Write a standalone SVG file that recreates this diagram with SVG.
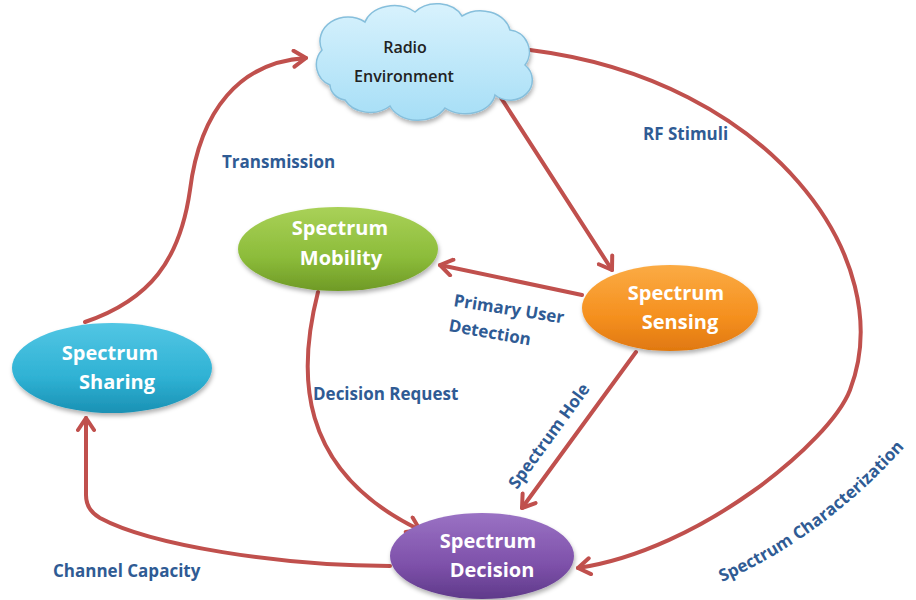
<svg xmlns="http://www.w3.org/2000/svg" width="916" height="600" viewBox="0 0 916 600">
<style>
.conn{fill:none;stroke:#c0504d;stroke-width:4;stroke-linecap:round}
.lbl{font-family:"Open Sans","Liberation Sans",sans-serif;font-weight:700;font-size:17px;fill:#2f5b94}
.nt{font-family:"Open Sans","Liberation Sans",sans-serif;font-weight:700;font-size:20px;fill:#ffffff;text-anchor:middle}
.ct{font-family:"Open Sans","Liberation Sans",sans-serif;font-weight:600;font-size:16px;fill:#222;text-anchor:middle}
</style>
<defs>
<marker id="ah" viewBox="0 0 20 20" refX="15" refY="10" markerWidth="20" markerHeight="20" markerUnits="userSpaceOnUse" orient="auto">
<path d="M3,2 L15,10 L3,18" fill="none" stroke="#c0504d" stroke-width="4" stroke-linecap="round" stroke-linejoin="round"/>
</marker>
<filter id="sh" x="-20%" y="-20%" width="140%" height="150%">
<feDropShadow dx="1" dy="3" stdDeviation="2" flood-color="#000" flood-opacity="0.3"/>
</filter>
<linearGradient id="gCloud" x1="0" y1="0" x2="0" y2="1"><stop offset="0" stop-color="#d8f2fd"/><stop offset="1" stop-color="#a6def6"/></linearGradient>
<linearGradient id="gMob" x1="0" y1="0" x2="0" y2="1"><stop offset="0" stop-color="#a9d158"/><stop offset="0.6" stop-color="#8cbc3a"/><stop offset="1" stop-color="#6f9a26"/></linearGradient>
<linearGradient id="gSen" x1="0" y1="0" x2="0" y2="1"><stop offset="0" stop-color="#fbab44"/><stop offset="0.6" stop-color="#f5901f"/><stop offset="1" stop-color="#e07810"/></linearGradient>
<linearGradient id="gSha" x1="0" y1="0" x2="0" y2="1"><stop offset="0" stop-color="#52c6e4"/><stop offset="0.6" stop-color="#2fb2d4"/><stop offset="1" stop-color="#1a91b4"/></linearGradient>
<linearGradient id="gDec" x1="0" y1="0" x2="0" y2="1"><stop offset="0" stop-color="#9a72c4"/><stop offset="0.6" stop-color="#7e51aa"/><stop offset="1" stop-color="#5f3a8a"/></linearGradient>
<path id="pChar" d="M722,582 Q830,535 920,430"/>
</defs>

<g id="connectors">
<path class="conn" marker-end="url(#ah)" d="M85,322 C150,300 180,260 190,190 C200,110 240,62 306,58"/>
<path class="conn" marker-end="url(#ah)" d="M494,87 L612,270"/>
<path class="conn" marker-end="url(#ah)" d="M530,50 C770,80 900,260 850,390 C830,442 700,550 578,568"/>
<path class="conn" marker-end="url(#ah)" d="M582,295 L440,265"/>
<path class="conn" marker-end="url(#ah)" d="M636,352 L522,508"/>
<path class="conn" marker-end="url(#ah)" d="M318,292 C298,370 295,470 420,530"/>
<path class="conn" marker-end="url(#ah)" d="M390,566 C280,566 150,545 100,518 Q86,510 86,495 L86,418"/>
</g>

<g id="labels">
<text class="lbl" x="222" y="168">Transmission</text>
<text class="lbl" x="643" y="140">RF Stimuli</text>
<text class="lbl" transform="translate(453,306) rotate(9)">Primary User</text>
<text class="lbl" transform="translate(448,331) rotate(10)">Detection</text>
<text class="lbl" x="313" y="400">Decision Request</text>
<text class="lbl" transform="translate(517,490) rotate(-54)">Spectrum Hole</text>
<text class="lbl"><textPath href="#pChar">Spectrum Characterization</textPath></text>
<text class="lbl" x="53" y="577">Channel Capacity</text>
</g>

<g id="radio-environment">
<path filter="url(#sh)" fill="url(#gCloud)" stroke="#86bfdc" stroke-width="1.5" d="M330,85 A22,22 0 0 1 322,50 A28,24 0 0 1 365,22 A30,22 0 0 1 415,12 A28,22 0 0 1 462,16 A30,24 0 0 1 510,30 A22,22 0 0 1 525,65 A22,20 0 0 1 495,95 A30,22 0 0 1 445,108 A30,22 0 0 1 390,106 A28,22 0 0 1 345,100 A18,16 0 0 1 330,85 Z"/>
<text class="ct" x="405" y="53">Radio</text>
<text class="ct" x="404" y="82">Environment</text>
</g>

<g id="spectrum-mobility">
<ellipse filter="url(#sh)" cx="338" cy="249" rx="100" ry="42" fill="url(#gMob)"/>
<text class="nt" x="340" y="235">Spectrum</text>
<text class="nt" x="341" y="265">Mobility</text>
</g>

<g id="spectrum-sensing">
<ellipse filter="url(#sh)" cx="670" cy="308" rx="88" ry="43" fill="url(#gSen)"/>
<text class="nt" x="676" y="300">Spectrum</text>
<text class="nt" x="680" y="329">Sensing</text>
</g>

<g id="spectrum-sharing">
<ellipse filter="url(#sh)" cx="112" cy="368" rx="100" ry="45" fill="url(#gSha)"/>
<text class="nt" x="110" y="360">Spectrum</text>
<text class="nt" x="117" y="389">Sharing</text>
</g>

<g id="spectrum-decision">
<ellipse filter="url(#sh)" cx="482" cy="556" rx="92" ry="43" fill="url(#gDec)"/>
<text class="nt" x="488" y="548">Spectrum</text>
<text class="nt" x="492" y="577">Decision</text>
</g>
</svg>
